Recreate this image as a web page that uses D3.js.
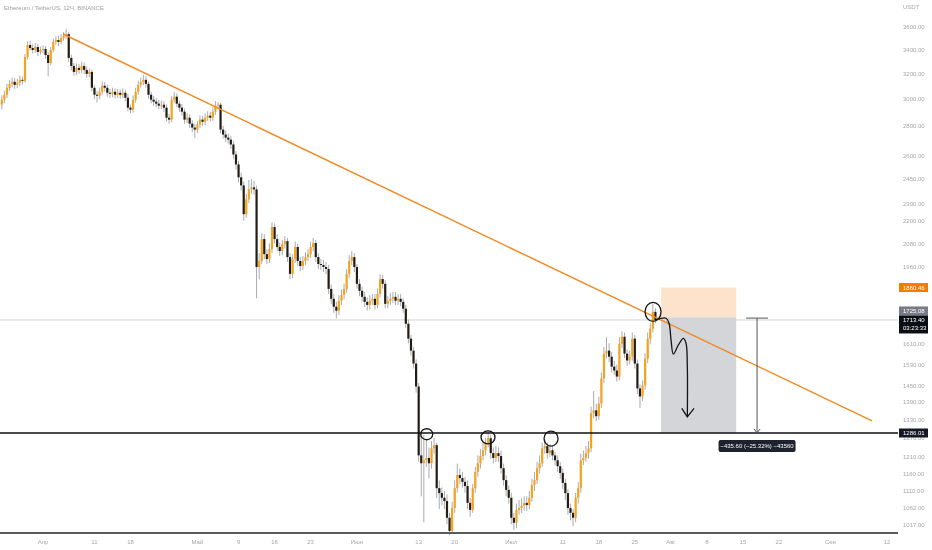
<!DOCTYPE html>
<html><head><meta charset="utf-8">
<script src="https://cdn.jsdelivr.net/npm/d3@7"></script>
<style>html,body{margin:0;padding:0;background:#fff;}svg{display:block;font-family:"Liberation Sans",Arial,sans-serif;}</style>
</head><body><svg id="chart" width="932" height="550"><defs><filter id="gray" x="0" y="0" width="1" height="1"><feColorMatrix type="saturate" values="0"/></filter></defs></svg>
<script>
// ---- DATA ----
const title = "Ethereum / TetherUS, 12Ч, BINANCE";
const currency = "USDT";
const startTime = Date.UTC(2022, 2, 24);   // first 12h bar
const barMs = 12 * 3600 * 1000;
const firstOpen = 2960;
const closes = [
2997,3035,3089,3120,3136,3112,3128,3152,3144,3340,
3443,3417,3400,3426,3383,3400,3409,3357,3290,3400,
3470,3487,3470,3505,3522,3540,3332,3265,3216,3249,
3232,3265,3232,3200,3216,3089,3035,3027,3058,3105,
3089,3050,3042,3058,3035,3050,3035,3050,3012,2937,
2922,2997,3058,3112,3136,3152,3120,3035,2997,2982,
2967,2952,2959,2937,2863,2849,2997,3020,2967,2937,
2907,2849,2863,2820,2792,2778,2813,2849,2834,2863,
2878,2863,2907,2952,2959,2778,2743,2722,2708,2675,
2608,2543,2461,2411,2241,2327,2387,2399,2387,1960,
1990,2104,2025,2000,2051,2169,2104,2062,2041,2077,
2093,2010,1926,2000,2062,1990,1965,1990,2010,2025,
2062,2083,2010,1975,1970,1960,1950,1854,1808,1772,
1754,1799,1826,1854,1926,1990,2010,1960,1878,1845,
1817,1794,1780,1799,1808,1780,1831,1901,1878,1785,
1799,1808,1817,1799,1808,1794,1763,1697,1634,1585,
1534,1447,1215,1191,1200,1207,1191,1237,1247,1118,
1104,1091,1082,1037,1003,1063,1118,1156,1147,1136,
1124,1077,1058,1118,1165,1191,1213,1231,1253,1269,
1222,1207,1222,1213,1176,1141,1113,1091,1037,1024,
1058,1063,1069,1077,1071,1091,1127,1141,1176,1191,
1237,1244,1222,1231,1215,1200,1182,1162,1133,1104,
1063,1050,1037,1091,1118,1200,1207,1222,1237,1352,
1362,1342,1386,1477,1573,1585,1561,1522,1507,1484,
1613,1642,1573,1546,1561,1634,1534,1440,1411,1451,
1553,1634,1676,1749,1713.4];
const highs = [
3030,3065,3120,3150,3170,3165,3160,3185,3180,3365,
3475,3480,3450,3460,3455,3430,3440,3435,3380,3425,
3500,3520,3525,3540,3560,3585,3560,3360,3290,3285,
3280,3300,3295,3260,3245,3235,3110,3065,3090,3140,
3135,3115,3080,3090,3085,3080,3075,3085,3075,3040,
2960,3030,3090,3145,3170,3190,3180,3140,3060,3025,
3010,2995,2990,2985,2960,2890,3025,3055,3045,2990,
2965,2930,2895,2885,2845,2820,2840,2880,2875,2895,
2910,2905,2940,2985,2980,2975,2805,2770,2750,2735,
2700,2630,2565,2490,2435,2360,2445,2450,2440,2410,
2030,2135,2130,2050,2080,2195,2190,2130,2085,2100,
2120,2110,2030,2025,2090,2080,2010,2015,2035,2050,
2090,2110,2100,2030,2000,1995,1985,1970,1875,1830,
1795,1825,1850,1880,1950,2020,2040,2030,1975,1900,
1865,1840,1815,1825,1830,1830,1855,1925,1920,1895,
1820,1835,1840,1840,1830,1830,1810,1780,1715,1650,
1600,1550,1460,1290,1280,1265,1240,1260,1270,1255,
1140,1120,1110,1100,1050,1080,1140,1190,1175,1165,
1150,1140,1090,1130,1180,1215,1235,1255,1270,1290,
1280,1240,1245,1240,1230,1190,1155,1125,1105,1050,
1075,1085,1090,1095,1095,1110,1145,1165,1195,1215,
1255,1265,1255,1250,1245,1225,1215,1195,1175,1145,
1115,1075,1060,1105,1135,1220,1230,1245,1260,1375,
1430,1385,1410,1500,1600,1640,1615,1580,1545,1530,
1640,1665,1660,1590,1585,1660,1650,1550,1455,1470,
1575,1660,1700,1785,1765];
const lows = [
2925,2970,3010,3065,3095,3080,3085,3100,3115,3130,
3320,3395,3370,3375,3350,3360,3370,3325,3180,3270,
3380,3445,3435,3450,3480,3500,3300,3230,3185,3190,
3200,3205,3200,3170,3175,3060,3000,2975,3000,3035,
3060,3020,3010,3015,3005,3010,3005,3010,2985,2910,
2895,2900,2975,3035,3090,3110,3090,3005,2970,2950,
2940,2925,2925,2905,2835,2820,2830,2975,2940,2905,
2880,2820,2825,2790,2760,2720,2755,2790,2805,2810,
2840,2835,2840,2885,2925,2750,2715,2690,2680,2645,
2580,2510,2430,2380,2205,2220,2305,2360,2355,1810,
1900,1975,2000,1975,1980,2030,2080,2040,2015,2020,
2055,1985,1900,1905,1980,1965,1940,1945,1970,1990,
2005,2040,1985,1950,1945,1935,1925,1830,1785,1745,
1720,1735,1780,1805,1835,1905,1970,1935,1855,1820,
1795,1770,1755,1760,1780,1760,1765,1815,1855,1765,
1765,1780,1790,1780,1780,1775,1745,1680,1615,1565,
1515,1425,1195,1095,1025,1180,1145,1175,1220,1090,
1060,1070,1060,1020,992,995,1050,1105,1130,1120,
1105,1060,1040,1050,1105,1150,1175,1200,1215,1240,
1205,1190,1195,1195,1160,1125,1095,1075,1020,1005,
1010,1045,1050,1055,1055,1060,1080,1110,1130,1160,
1180,1220,1205,1210,1200,1185,1165,1145,1115,1085,
1045,1030,1015,1025,1075,1105,1185,1195,1205,1225,
1335,1325,1330,1370,1460,1555,1540,1500,1490,1465,
1470,1595,1555,1525,1530,1545,1515,1420,1370,1395,
1435,1535,1610,1660,1700];

const priceTicks = [3600,3400,3200,3000,2800,2600,2450,2300,2200,2080,1960,1860,1610,1530,1450,1390,1330,1270,1210,1160,1110,1062,1017];
const timeTicks = [
  ["2022-04-01","Апр"],["2022-04-11","11"],["2022-04-18","18"],["2022-05-01","Май"],["2022-05-09","9"],
  ["2022-05-16","16"],["2022-05-23","23"],["2022-06-01","Июн"],["2022-06-13","13"],["2022-06-20","20"],
  ["2022-07-01","Июл"],["2022-07-11","11"],["2022-07-18","18"],["2022-07-25","25"],["2022-08-01","Авг"],
  ["2022-08-08","8"],["2022-08-15","15"],["2022-08-22","22"],["2022-09-01","Сен"],["2022-09-12","12"]];

// drawings (day offset from 1 Apr 2022, price)
const trendLine = [[3.89, 3541], [161.1, 1326]];
const supportLevel = 1286.01;
const bottomLevel = 998;
const lastPrice = 1713.40;
const countdown = "03:23:33";
const entryPrice = 1725.08;
const stopPrice = 1860.46;
const positionDays = [120.1, 134.7];
const measure = {day: 138.75, from: 1721.61, to: 1286.01, label: "\u2212435.60 (\u221225.32%) \u221243560"};
const circles = [
  {day: 74.56, price: 1282, rx: 6, ry: 5.5},
  {day: 86.47, price: 1272, rx: 7, ry: 6.5},
  {day: 98.72, price: 1268, rx: 7, ry: 7.5},
  {day: 118.54, price: 1749, rx: 8, ry: 9.5}];
const wave = [[118.93,1713],[121.07,1721],[121.65,1699],[122.04,1628],[122.48,1571],[123.46,1608],[124.43,1635],[124.95,1615],[125.2,1522],[125.2,1340]];
const waveArrow = [[124.12,1369],[125.2,1340],[126.51,1369]];

// ---- SCALES ----
const svg = d3.select("#chart");
const base = Date.UTC(2022, 3, 1);
const dayDate = d => new Date(base + d * 86400000);
const x = d3.scaleUtc().domain([new Date(Date.UTC(2022,3,1)), new Date(Date.UTC(2022,8,12))]).range([43, 887]);
const y = d3.scaleLog().domain([3400, supportLevel]).range([50, 433]);
const plotLeft = 0, plotRight = 898;

const candles = closes.map((c, i) => {
  const o = i ? closes[i-1] : firstOpen;
  return {t: new Date(startTime + i * barMs), o, c, h: Math.max(highs[i], o, c), l: Math.min(lows[i], o, c)};
});

// last price line
svg.append("line").attr("x1", plotLeft).attr("x2", plotRight)
  .attr("y1", y(lastPrice)).attr("y2", y(lastPrice)).attr("stroke", "#d2d3d6").attr("stroke-width", 1);

// position tool
svg.append("rect").attr("x", x(dayDate(positionDays[0]))).attr("y", y(stopPrice))
  .attr("width", x(dayDate(positionDays[1])) - x(dayDate(positionDays[0])))
  .attr("height", y(entryPrice) - y(stopPrice)).attr("fill", "#fde3cb");
svg.append("rect").attr("x", x(dayDate(positionDays[0]))).attr("y", y(entryPrice))
  .attr("width", x(dayDate(positionDays[1])) - x(dayDate(positionDays[0])))
  .attr("height", y(supportLevel) - y(entryPrice)).attr("fill", "#d3d5d8");

// candles
const g = svg.append("g");
g.selectAll("line.wick").data(candles).join("line").attr("class", "wick")
  .attr("x1", d => x(d.t)).attr("x2", d => x(d.t))
  .attr("y1", d => y(d.h)).attr("y2", d => y(d.l))
  .attr("stroke", "#a9abb0").attr("stroke-width", 1);
g.selectAll("rect.body").data(candles).join("rect").attr("class", "body")
  .attr("x", d => x(d.t) - 1.1).attr("width", 2.2)
  .attr("y", d => y(Math.max(d.o, d.c)))
  .attr("height", d => Math.max(0.9, y(Math.min(d.o, d.c)) - y(Math.max(d.o, d.c))))
  .attr("fill", d => d.c >= d.o ? "#f7a21c" : "#231d15");

// bottom line
svg.append("line").attr("x1", plotLeft).attr("x2", plotRight)
  .attr("y1", y(bottomLevel)).attr("y2", y(bottomLevel)).attr("stroke", "#5a5a5a").attr("stroke-width", 2);
// support line
svg.append("line").attr("x1", plotLeft).attr("x2", plotRight)
  .attr("y1", y(supportLevel)).attr("y2", y(supportLevel)).attr("stroke", "#111").attr("stroke-width", 1.6);

// trend line
svg.append("path").datum(trendLine)
  .attr("d", d3.line().x(d => x(dayDate(d[0]))).y(d => y(d[1])))
  .attr("stroke", "#f08a24").attr("stroke-width", 1.5).attr("fill", "none");

// measure tool
const mx = x(dayDate(measure.day));
const my1 = y(measure.from), my2 = y(measure.to);
svg.append("line").attr("x1", mx).attr("x2", mx).attr("y1", my1).attr("y2", my2).attr("stroke", "#555").attr("stroke-width", 1);
svg.append("line").attr("x1", mx - 11).attr("x2", mx + 11).attr("y1", my1).attr("y2", my1).attr("stroke", "#555").attr("stroke-width", 1);
svg.append("path").attr("d", `M${mx-3},${my2-4}L${mx},${my2}L${mx+3},${my2-4}`).attr("stroke", "#555").attr("fill", "none").attr("stroke-width", 1);

// hand-drawn annotations
svg.selectAll("ellipse.ann").data(circles).join("ellipse").attr("class", "ann")
  .attr("cx", d => x(dayDate(d.day))).attr("cy", d => y(d.price))
  .attr("rx", d => d.rx).attr("ry", d => d.ry)
  .attr("fill", "none").attr("stroke", "#151515").attr("stroke-width", 1.3);
svg.append("path").datum(wave)
  .attr("d", d3.line().x(d => x(dayDate(d[0]))).y(d => y(d[1])).curve(d3.curveCatmullRom))
  .attr("fill", "none").attr("stroke", "#151515").attr("stroke-width", 1.3);
svg.append("path").datum(waveArrow)
  .attr("d", d3.line().x(d => x(dayDate(d[0]))).y(d => y(d[1])))
  .attr("fill", "none").attr("stroke", "#151515").attr("stroke-width", 1.3);

// measure label box
svg.append("rect").attr("x", mx - 38.5).attr("y", my2 + 7).attr("width", 77).attr("height", 12).attr("rx", 2).attr("fill", "#1e222d");

// text layer, desaturated to avoid colour fringes on small text
const tg = svg.append("g").attr("filter", "url(#gray)");
tg.append("text").attr("x", mx).attr("y", my2 + 13).attr("text-anchor", "middle").attr("dominant-baseline", "central")
  .attr("font-size", 6).attr("fill", "#fff").text(measure.label);
tg.append("text").attr("x", 903).attr("y", 7).attr("dominant-baseline", "central")
  .attr("font-size", 6).attr("fill", "#a3a6ad").text(currency);
tg.selectAll("text.pt").data(priceTicks).join("text").attr("class", "pt")
  .attr("x", 903).attr("y", d => y(d)).attr("dominant-baseline", "central")
  .attr("font-size", 6).attr("fill", "#a3a6ad").text(d => d.toFixed(2));
tg.selectAll("text.tt").data(timeTicks).join("text").attr("class", "tt")
  .attr("x", d => x(new Date(d[0] + "T00:00:00Z"))).attr("y", 542)
  .attr("text-anchor", "middle").attr("dominant-baseline", "central")
  .attr("font-size", 6).attr("fill", "#a3a6ad").text(d => d[1]);
tg.append("text").attr("x", 4).attr("y", 8).attr("dominant-baseline", "central")
  .attr("font-size", 6).attr("fill", "#9a9da5").text(title);

// badges over the tick labels
function badgeRect(cy, fill, h) {
  svg.append("rect").attr("x", 899).attr("y", cy - 4.5).attr("width", 29).attr("height", h).attr("fill", fill);
}
badgeRect(y(stopPrice), "#f57c00", 9);
badgeRect(y(lastPrice) - 9, "#787b86", 9);
badgeRect(y(lastPrice), "#0c0e15", 18);
badgeRect(y(supportLevel), "#131722", 9);
const badgeTexts = [[stopPrice.toFixed(2), y(stopPrice)], [entryPrice.toFixed(2), y(lastPrice) - 9],
  [lastPrice.toFixed(2), y(lastPrice)], [countdown, y(lastPrice) + 8.5], [supportLevel.toFixed(2), y(supportLevel)]];
const btg = svg.append("g").attr("filter", "url(#gray)");
btg.selectAll("text").data(badgeTexts).join("text")
  .attr("x", 903).attr("y", d => d[1]).attr("dominant-baseline", "central")
  .attr("font-size", 6).attr("fill", "#fff").text(d => d[0]);
</script></body></html>
